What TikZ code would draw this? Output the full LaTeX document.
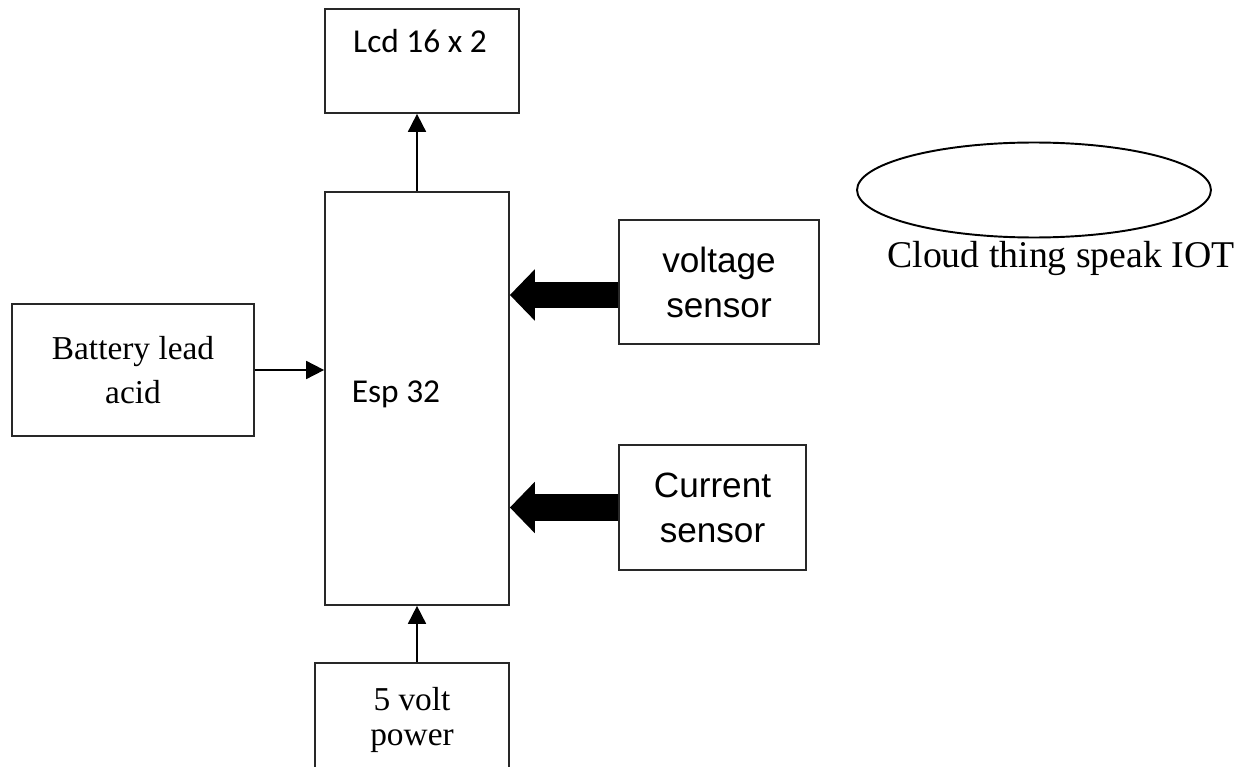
\documentclass[tikz,border=0pt]{standalone}
\usepackage{fontspec}
\setmainfont{Liberation Serif}
\newfontfamily\arialfont{Liberation Sans}
\newfontfamily\calibrifont{Carlito}
\usepackage{tikz}
\usetikzlibrary{
  positioning,
  arrows.meta,
  shapes.geometric
}
\definecolor{LineGray}{RGB}{40,40,40}

\begin{document}
\begin{tikzpicture}[
  x=0.02cm,y=-0.02cm,
  block/.style={draw=LineGray,line width=1pt,fill=white,inner sep=0pt,
    align=center},
  serif/.style={font=\fontsize{19}{25}\selectfont},
  sans/.style={font=\arialfont\fontsize{20}{25.6}\selectfont},
  calib/.style={font=\calibrifont\fontsize{19}{23}\selectfont},
  arr/.style={-{Triangle[length=0.36cm,width=0.36cm]},line width=1pt,black},
  fatarr/.style={-{Triangle[length=0.5cm,width=1.0cm]},line width=0.54cm,black},
]
\clip (0,0) rectangle (1252,767);
% --- blocks ---
\node[block,minimum width=3.88cm,minimum height=2.08cm] (lcd) at (422,61) {};
\node[block,minimum width=3.68cm,minimum height=8.26cm] (esp) at (417,398.5) {};
\node[block,serif,minimum width=4.84cm,minimum height=2.64cm] (bat) at (133,370)
  {Battery lead\\acid};
\node[block,sans,minimum width=4.0cm,minimum height=2.48cm] (volt) at (719,282)
  {voltage\\sensor};
\node[block,sans,minimum width=3.74cm,minimum height=2.5cm] (cur) at (712.5,507.5)
  {Current\\sensor};
\node[block,font=\fontsize{19}{20}\selectfont,minimum width=3.88cm,minimum height=2.28cm]
  (pw) at (412,720) {5 volt\\power};
\node[draw=black,line width=1.1pt,ellipse,minimum width=7.08cm,minimum height=1.9cm]
  (cloud) at (1034,190) {};

% --- texts ---
\node[calib,anchor=base] (lcdtxt) at (420,53) {Lcd 16 x 2};
\node[calib,anchor=base] (esptxt) at (396,402) {Esp 32};
\node[font=\fontsize{21.5}{26}\selectfont,anchor=base] (cloudtxt) at (1061,267)
  {Cloud thing speak IOT};

% --- connectors ---
\coordinate (vin) at ([yshift=-0.26cm]volt.west);
\draw[arr] (esp.north) -- (esp.north |- lcd.south);
\draw[arr] (bat.east) -- (bat.east -| esp.west);
\draw[arr] (esp.south |- pw.north) -- (esp.south);
\draw[fatarr] (vin) -- (vin -| esp.east);
\draw[fatarr] (cur.west) -- (cur.west -| esp.east);
\end{tikzpicture}
\end{document}
